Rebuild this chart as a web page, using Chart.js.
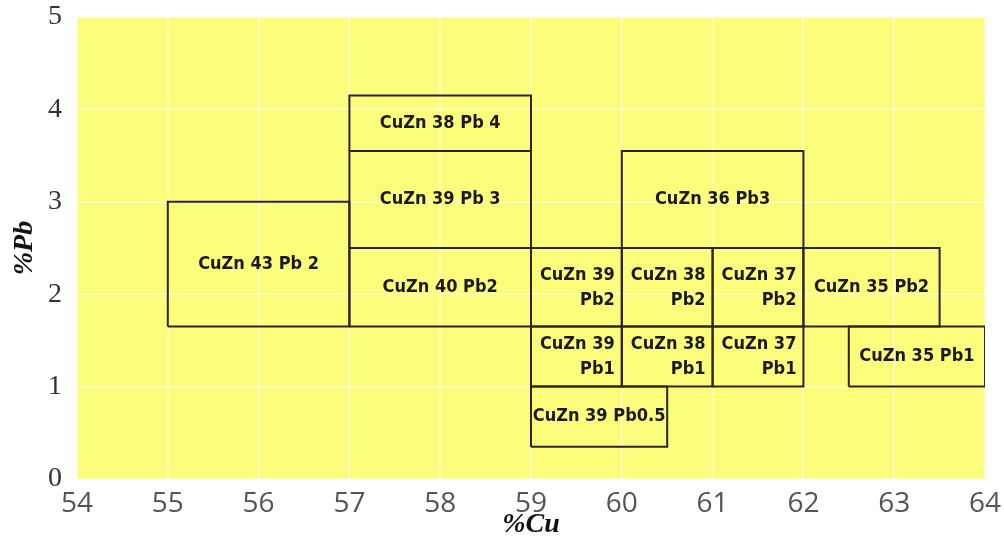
<!DOCTYPE html>
<html>
<head>
<meta charset="utf-8">
<script src="https://cdn.jsdelivr.net/npm/chart.js@4.4.0/dist/chart.umd.min.js"></script>
<style>
  html, body { margin: 0; padding: 0; background: #fff; }
  #wrap { width: 1004px; height: 553px; position: relative; }
</style>
</head>
<body>
<div id="wrap"><canvas id="myChart" width="1004" height="553"></canvas></div>
<script>
// alloy fields, one rectangle per designation
let boxLabels = [
  "CuZn 43 Pb 2", "CuZn 38 Pb 4", "CuZn 39 Pb 3", "CuZn 40 Pb2",
  "CuZn 36 Pb3", "CuZn 39\nPb2", "CuZn 38\nPb2", "CuZn 37\nPb2",
  "CuZn 35 Pb2", "CuZn 39\nPb1", "CuZn 38\nPb1", "CuZn 37\nPb1",
  "CuZn 35 Pb1", "CuZn 39 Pb0.5"
];
let cuMin = [55, 57, 57, 57, 60, 59, 60, 61, 62, 59, 60, 61, 62.5, 59];
let cuMax = [57, 59, 59, 59, 62, 60, 61, 62, 63.5, 60, 61, 62, 64, 60.5];
let pbMin = [1.65, 3.55, 2.5, 1.65, 2.5, 1.65, 1.65, 1.65, 1.65, 1, 1, 1, 1, 0.35];
let pbMax = [3, 4.15, 3.55, 2.5, 3.55, 2.5, 2.5, 2.5, 2.5, 1.65, 1.65, 1.65, 1.65, 1];

let xTicks = [54, 55, 56, 57, 58, 59, 60, 61, 62, 63, 64];
let yTicks = [0, 1, 2, 3, 4, 5];

let datasets = [];
for (let i = 0; i < boxLabels.length; i++) {
  datasets.push({
    label: boxLabels[i],
    data: [
      { x: cuMin[i], y: pbMin[i] },
      { x: cuMax[i], y: pbMin[i] },
      { x: cuMax[i], y: pbMax[i] },
      { x: cuMin[i], y: pbMax[i] },
      { x: cuMin[i], y: pbMin[i] }
    ],
    showLine: true,
    borderColor: "#2b2420",
    borderWidth: 2,
    pointRadius: 0,
    fill: false,
    tension: 0
  });
}

// yellow plot background
let bgPlugin = {
  id: "bg",
  beforeDraw(chart) {
    let a = chart.chartArea;
    let ctx = chart.ctx;
    ctx.save();
    ctx.fillStyle = "#fdfd7c";
    ctx.fillRect(a.left, a.top, a.right - a.left, a.bottom - a.top);
    ctx.restore();
  }
};

// names written inside each box
let namePlugin = {
  id: "names",
  afterDatasetsDraw(chart) {
    let ctx = chart.ctx;
    let xs = chart.scales.x;
    let ys = chart.scales.y;
    ctx.save();
    ctx.fillStyle = "#1a1a1a";
    ctx.font = "bold 18px 'DejaVu Sans Condensed', 'DejaVu Sans'";
    ctx.textBaseline = "middle";
    for (let i = 0; i < boxLabels.length; i++) {
      let x0 = xs.getPixelForValue(cuMin[i]);
      let x1 = xs.getPixelForValue(cuMax[i]);
      let yc = (ys.getPixelForValue(pbMin[i]) + ys.getPixelForValue(pbMax[i])) / 2;
      let lines = boxLabels[i].split("\n");
      if (lines.length == 1) {
        ctx.textAlign = "center";
        ctx.fillText(lines[0], (x0 + x1) / 2, yc);
      } else {
        ctx.textAlign = "right";
        ctx.fillText(lines[0], x1 - 7, yc - 12);
        ctx.fillText(lines[1], x1 - 7, yc + 13);
      }
    }
    ctx.restore();
  }
};

let mychart = document.getElementById("myChart").getContext("2d");
let boxChart = new Chart(mychart, {
  type: "scatter",
  data: { datasets: datasets },
  options: {
    responsive: false,
    animation: false,
    layout: { padding: { top: 17, right: 19, left: 0, bottom: 0 } },
    plugins: { legend: { display: false }, tooltip: { enabled: false } },
    scales: {
      x: {
        type: "linear",
        min: 54,
        max: 64,
        afterFit(scale) {
          scale.height = 74;
          scale.paddingLeft = 0;
          scale.paddingRight = 0;
        },
        afterBuildTicks(scale) { scale.ticks = xTicks.map(v => ({ value: v })); },
        grid: { color: "rgba(255,255,255,0.45)", lineWidth: 2, drawTicks: false },
        border: { display: false },
        ticks: {
          padding: 8,
          color: "#555",
          font: { family: "'Open Sans'", size: 28 }
        },
        title: {
          display: true,
          text: "%Cu",
          color: "#111",
          padding: { top: 0, bottom: 11 },
          font: { family: "'Liberation Serif'", size: 28, weight: "bold", style: "italic" }
        }
      },
      y: {
        type: "linear",
        min: 0,
        max: 5,
        afterFit(scale) {
          scale.width = 77;
          scale.paddingTop = 0;
          scale.paddingBottom = 0;
        },
        afterBuildTicks(scale) { scale.ticks = yTicks.map(v => ({ value: v })); },
        grid: { color: "rgba(255,255,255,0.45)", lineWidth: 2, drawTicks: false },
        border: { display: false },
        ticks: {
          padding: 15,
          color: "#333",
          font: { family: "'Liberation Serif'", size: 28 }
        },
        title: {
          display: true,
          text: "%Pb",
          color: "#111",
          padding: { top: 8, bottom: 0 },
          font: { family: "'Liberation Serif'", size: 28, weight: "bold", style: "italic" }
        }
      }
    }
  },
  plugins: [bgPlugin, namePlugin]
});
</script>
</body>
</html>
